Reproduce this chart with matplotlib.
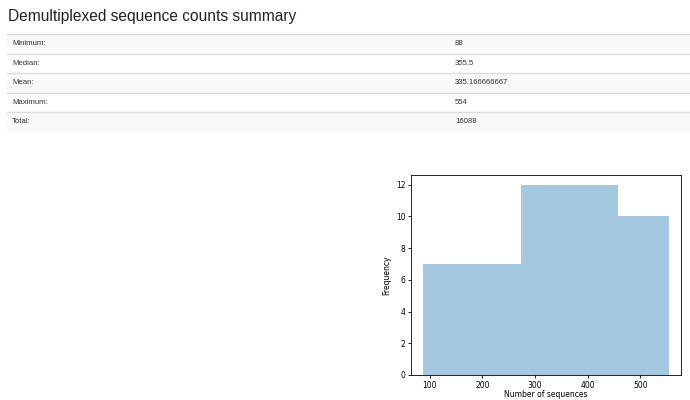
import numpy as np
import matplotlib.pyplot as plt
from matplotlib.patches import Rectangle
from matplotlib.lines import Line2D

# summary table
stat_labels = ["Minimum:", "Median:", "Mean:", "Maximum:", "Total:"]
stat_values = ["88", "355.5", "335.166666667", "554", "16088"]

# histogram
bin_edges = [88, 274, 458, 554]
bin_counts = [7, 12, 10]

W, H = 690, 400
fig = plt.figure(figsize=(W / 100, H / 100), dpi=100)
plt.rcParams["font.family"] = ["Liberation Sans", "DejaVu Sans"]


def fx(px):
    return px / W


def fy(py):
    return 1 - py / H


fig.text(fx(8), fy(17), "Demultiplexed sequence counts summary", fontsize=11.2,
         color="#222222", va="center", ha="left")

row_top = 34
row_h = 19.5
for i, (lab, val) in enumerate(zip(stat_labels, stat_values)):
    y0 = row_top + i * row_h
    if i % 2 == 0:
        fig.add_artist(Rectangle((fx(7), fy(y0 + row_h)), fx(690) - fx(7), row_h / H,
                                 transform=fig.transFigure, facecolor="#f9f9f9",
                                 edgecolor="none", zorder=0))
    fig.add_artist(Line2D([fx(7), fx(690)], [fy(y0), fy(y0)], transform=fig.transFigure,
                          color="#dddddd", lw=1.0))
    fig.text(fx(12), fy(y0 + row_h / 2), lab, fontsize=5.6, color="#333333",
             va="center", ha="left")
    fig.text(fx(455), fy(y0 + row_h / 2), val, fontsize=5.6, color="#333333",
             va="center", ha="left")

ax = fig.add_axes([fx(411), fy(375), (681 - 411) / W, (375 - 175) / H])
widths = np.diff(bin_edges)
ax.bar(bin_edges[:-1], bin_counts, width=widths, align="edge",
       color="#1f77b4", alpha=0.4, linewidth=0)
ax.set_xticks([100, 200, 300, 400, 500])
ax.set_yticks([0, 2, 4, 6, 8, 10, 12])
ax.tick_params(labelsize=5.5, length=2.5, width=0.6, pad=1.5)
for s in ax.spines.values():
    s.set_linewidth(0.6)
ax.set_xlabel("Number of sequences", fontsize=5.5, labelpad=0.5, family="DejaVu Sans")
ax.set_ylabel("Frequency", fontsize=5.5, labelpad=3, family="DejaVu Sans")
for t in ax.get_xticklabels() + ax.get_yticklabels():
    t.set_family("DejaVu Sans")

fig.savefig("out.png", dpi=100)
